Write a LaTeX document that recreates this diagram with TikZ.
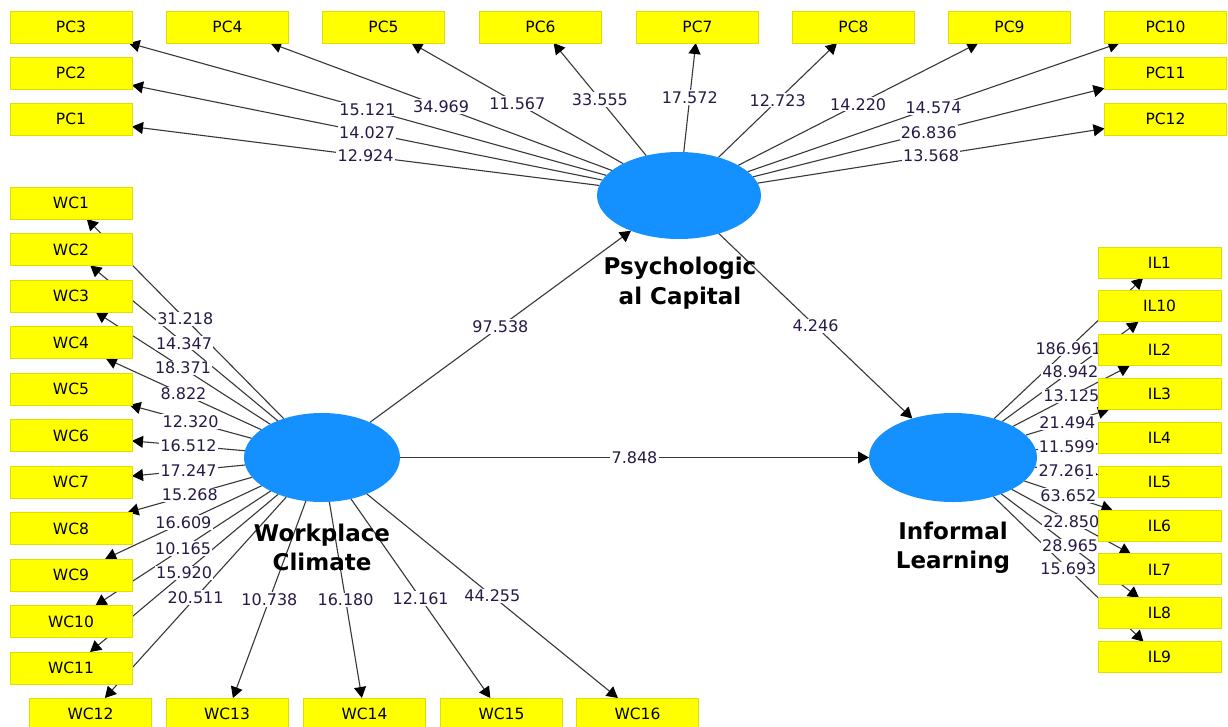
\documentclass[tikz,border=0pt]{standalone}
\usepackage{fontspec}
\setmainfont{DejaVu Sans}
\usetikzlibrary{shapes.geometric,arrows.meta}
\definecolor{lvblue}{RGB}{20,145,255}
\definecolor{boxyellow}{RGB}{255,255,0}
\definecolor{boxedge}{RGB}{222,222,0}
\definecolor{lbltext}{RGB}{40,25,70}
\pgfdeclarelayer{bgfill}
\pgfdeclarelayer{edges}
\pgfdeclarelayer{elabels}
\pgfsetlayers{bgfill,edges,elabels,main}
\begin{document}
\begin{tikzpicture}[x=1pt,y=-1pt,
  ind/.style={rectangle, draw=boxedge, line width=1pt, fill=boxyellow,
    minimum width=122pt, minimum height=32pt, inner sep=0pt, outer sep=0pt,
    font=\fontsize{15.5}{18}\selectfont, text=black},
  lv/.style={ellipse, fill=lvblue, draw=none, inner sep=0pt, outer sep=0pt},
  lvtext/.style={align=center, font=\fontsize{23}{29.5}\selectfont\bfseries, text=black, inner sep=0pt},
  arr/.style={draw=black!78, line width=1.1pt, -{Triangle[length=11pt,width=12pt,color=black]}},
  lbl/.style={fill=white, inner sep=1.2pt, font=\fontsize{16}{18}\selectfont, text=lbltext}
]
\begin{pgfonlayer}{bgfill}
\fill[white] (0,0) rectangle (1228,726);
\end{pgfonlayer}
\useasboundingbox (0,0) rectangle (1228,726);

% latent variables
\node[lv, minimum width=164pt, minimum height=87pt] (pc) at (679,195.5) {};
\node[lv, minimum width=156pt, minimum height=89pt] (wc) at (322,457.5) {};
\node[lv, minimum width=168pt, minimum height=89pt] (il) at (953,457.5) {};
\node[lvtext] (pctxt) at (680,283) {Psychologic\\al Capital};
\node[lvtext] (wctxt) at (322,547.5) {Workplace\\Climate};
\node[lvtext] (iltxt) at (953,547.5) {Informal\\Learning};

% indicators
\foreach \n/\t/\x/\y in {pc1/PC1/71/119, pc2/PC2/71/73, pc3/PC3/71/27,
  pc4/PC4/227.5/27, pc5/PC5/383.5/27, pc6/PC6/540.5/27, pc7/PC7/697.5/27,
  pc8/PC8/853.5/27, pc9/PC9/1009.5/27, pc10/PC10/1165.5/27,
  pc11/PC11/1165.5/73, pc12/PC12/1165.5/119}
  \node[ind] (\n) at (\x,\y) {\t};
\foreach \i in {1,...,11}
  \node[ind] (wc\i) at (71,{203+(\i-1)*46.5}) {WC\i};
\foreach \n/\t/\x in {wc12/WC12/90.5, wc13/WC13/227, wc14/WC14/364.5,
  wc15/WC15/501.5, wc16/WC16/637.5}
  \node[ind] (\n) at (\x,714) {\t};
\foreach \n/\t/\k in {il1/IL1/0, il10/IL10/1, il2/IL2/2, il3/IL3/3, il4/IL4/4,
  il5/IL5/5, il6/IL6/6, il7/IL7/7, il8/IL8/8, il9/IL9/9}
  \node[ind, minimum width=123pt, minimum height=31pt] (\n) at (1159.5,{262.5+\k*43.85}) {\t};

% connectors
\begin{pgfonlayer}{edges}
\foreach \n in {pc1,pc2,pc3,pc4,pc5,pc6,pc7,pc8,pc9,pc10,pc11,pc12}
  \draw[arr] (pc) -- coordinate[midway](m\n) (\n);
\foreach \n in {wc1,wc2,wc3,wc4,wc5,wc6,wc7,wc8,wc9,wc10,wc11,wc12,wc13,wc14,wc15,wc16}
  \draw[arr] (wc) -- coordinate[midway](m\n) (\n);
\foreach \n in {il1,il2,il3,il4,il5,il6,il7,il8,il9,il10}
  \draw[arr] (il) -- coordinate[midway](m\n) (\n);
\draw[arr] (wc) -- coordinate[midway](mwcpc) (pc);
\draw[arr] (pc) -- coordinate[midway](mpcil) (il);
\draw[arr] (wc) -- coordinate[midway](mwcil) (il);
\end{pgfonlayer}

% connector labels
\begin{pgfonlayer}{elabels}
\foreach \n/\v in {pc1/12.924, pc2/14.027, pc3/15.121, pc4/34.969, pc5/11.567,
  pc6/33.555, pc7/17.572, pc8/12.723, pc9/14.220, pc10/14.574, pc11/26.836, pc12/13.568,
  wc1/31.218, wc2/14.347, wc3/18.371, wc4/8.822, wc5/12.320, wc6/16.512, wc7/17.247,
  wc8/15.268, wc9/16.609, wc10/10.165, wc11/15.920, wc12/20.511, wc13/10.738,
  wc14/16.180, wc15/12.161, wc16/44.255,
  il1/186.961, il10/48.942, il2/13.125, il3/21.494, il4/11.599, il5/27.261,
  il6/63.652, il7/22.850, il8/28.965, il9/15.693,
  wcpc/97.538, pcil/4.246, wcil/7.848}
  \node[lbl] (l\n) at (m\n) {\v};
\end{pgfonlayer}
\end{tikzpicture}
\end{document}
